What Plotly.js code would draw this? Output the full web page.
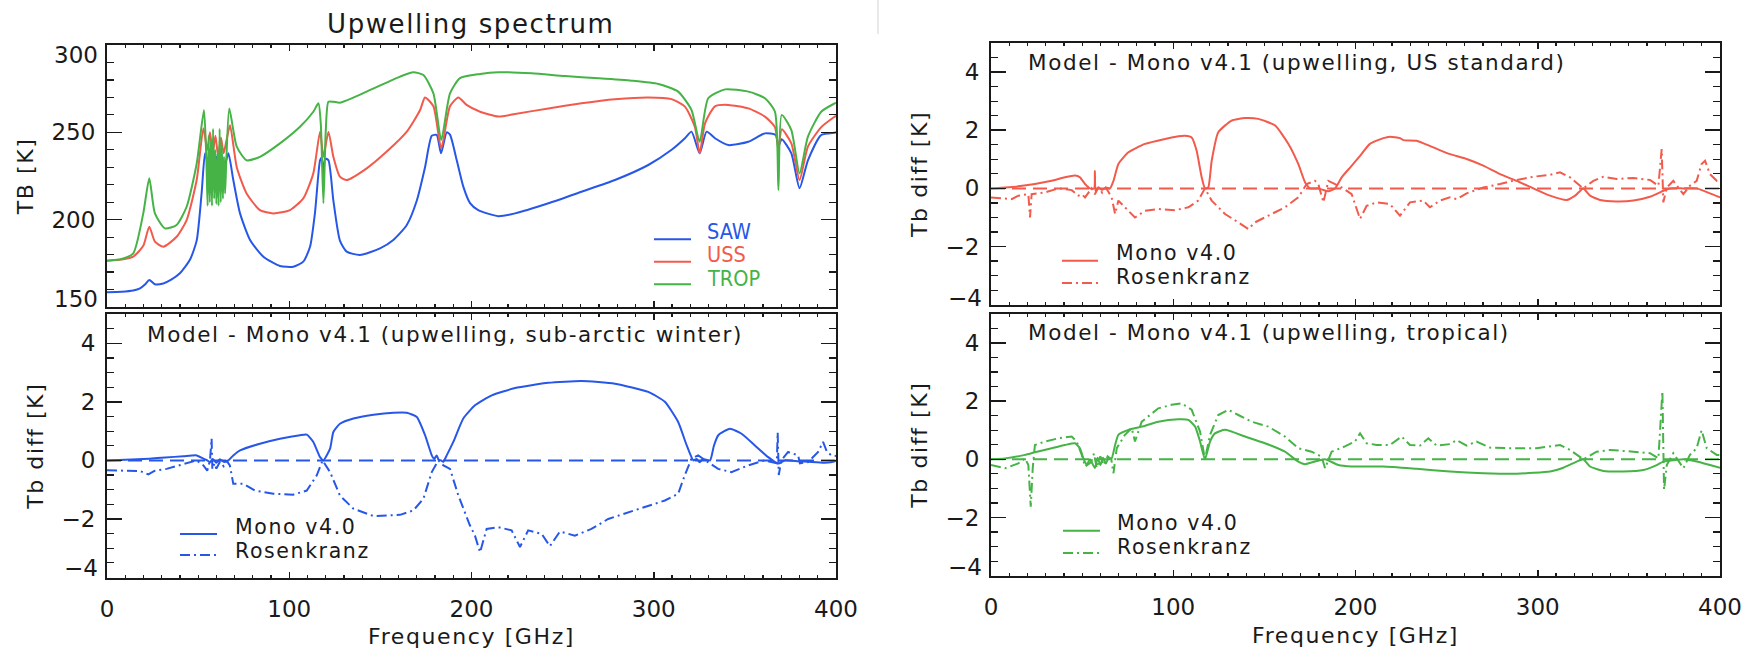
<!DOCTYPE html>
<html>
<head>
<meta charset="utf-8">
<script src="https://cdn.plot.ly/plotly-3.0.1.min.js"></script>
<style>
  html, body { margin: 0; padding: 0; background: #fff; }
  #chart { width: 1755px; height: 650px; }
  text[style*="Bitstream"] { letter-spacing: 1.6px; }
</style>
</head>
<body>
<div id="chart"></div>
<script>
// ---------------- DATA ----------------
// Upwelling spectrum, TB [K]
const sawFreq = [0,8,14.4,18.1,21,23.2,26.3,30.9,35,40,45.5,49.2,51.9,53.8,55.5,57,58.5,60,61.5,63,64.5,66.6,69.3,73,78.5,85.8,94.9,102.2,107.7,111.4,114.1,116.9,117.8,118.75,119.7,121.5,124.2,127.8,131.5,138.8,149.8,157.1,164.5,170,174.5,178.2,180.9,183.3,186.4,188.2,191.9,195.5,199.2,203.7,214.7,223.9,242.2,260.4,278.7,297,309.8,317.1,320.7,325.2,329,333.6,340.9,351.9,361,366.9,368.4,370.2,375.5,380,384.6,391.9,399.3,400];
const sawTB   = [158.5,158.8,159.5,160.7,163,165.5,163,163.5,165.5,169.3,177,188,215,238,232,237,230,236,229,235,231,238,222.7,203.6,188.4,178.8,173.5,173.1,176,184.5,203.8,234,235.5,226,235,234,211,188,181.7,179.8,183.6,188.4,197,211,230,248,248.5,238,250,248.7,234,218.9,209.5,205.5,202,203.6,209.4,216,222.7,231.3,240,246.6,250.4,238,250.4,246.6,242.7,244.6,249.4,248.5,242,246,238,218,234,248.5,249.8,250];

const ussFreq = [0,8,14.4,19.9,23.2,26.3,30.9,38.2,43.7,49.2,52.9,55,56.5,58,59.5,61,62.5,64,65.5,67.5,71.2,76.6,83.9,91.3,100.4,107.7,113.2,116.9,118.75,121.5,124.2,127.8,131.5,142.5,153.5,164.5,171.8,174.5,179.1,183.4,188.2,192.8,197.3,204.7,214.7,223.9,242.2,260.4,278.7,297,309.8,317.1,322.6,325.2,328.1,333.6,340.9,351.9,361,366.5,368.4,370.2,375.5,380,384.6,391.9,399.3,400];
const ussTB   = [176.5,177.2,178.8,185,196,187.4,184.5,190.2,199.8,222.7,252.3,240,250,238,248,236,247,238,245,254,230,215,205.5,203.6,205.5,212.2,226.5,250.4,236,250.4,236,224.6,222.7,229.4,239,250.4,262.8,270,264.9,240.8,264.9,270,265.7,261.8,259,260.5,263.7,266.6,268.9,270,269,264.7,253,238,255,264.9,265.7,263.7,259,253,240,251.7,243.7,222.7,241.8,253,259,259.5];

const tropFreq = [0,8,14.4,19.9,23.2,26.3,31.8,38.2,43.7,49.2,53.2,54.5,55.2,55.8,56.4,57,57.6,58.2,58.8,59.4,60,60.6,61.2,61.8,62.4,63,63.6,64.2,64.8,65.5,67.1,71.2,76.6,83.9,94.9,105.9,113.2,116,117.3,118.75,120,121.5,124.2,127.8,142.5,160.8,168.1,173.6,179.1,183.4,188.2,193.7,204.7,214.7,233,251.3,269.6,287.9,302.5,313.4,320.7,325.2,329.9,339.1,351.9,361,366.5,368.4,370.2,375.5,380,384.6,391.9,399.3,400];
const tropTB   = [176.5,177.5,180.7,203.6,223.7,203.6,195,197,207.4,232,262.8,235,208,248,210,245,208,252,212,240,209,238,208,252,210,243,212,236,215,235,263.7,241.8,234,236,243.7,253.2,261.8,266.6,255,209.4,250,267.5,267.5,267,273.3,281.9,284.4,282.8,272.3,245.6,272.3,281,283.4,284.4,283.8,282.2,281,279.6,277.7,273.3,262.8,244.6,269.5,274.6,273.3,269.5,261.8,217,260,251.3,226.5,247.5,261.8,266.6,267];

// Model - Mono v4.1 differences, Tb diff [K]
const sawMonoFreq = [0,10,23.2,32,41.9,49.2,52.9,55,56.5,58,60,62,64,66.6,69.3,73,83.9,94.9,105.9,109.6,113.2,116.9,118.75,122.4,124.2,127.8,135.2,146.2,157.1,164.5,170,174.5,178.2,179.5,180.9,182,183.3,184.5,186.4,190,195.5,201.9,211.1,223.9,242.2,260.4,278.7,297,306.1,313.4,318.1,321.7,323.5,325.2,327,330.9,333,335.4,341.8,348.2,355.5,362.8,368.3,372,379.3,385,393.9,399.3,400];
const sawMonoDiff = [0,0.02,0.06,0.1,0.14,0.17,0.06,0,-0.06,0.05,-0.08,0.04,-0.05,0,0.17,0.34,0.57,0.74,0.86,0.88,0.63,0.11,0,0.4,0.97,1.25,1.43,1.56,1.63,1.63,1.48,0.86,0.17,0.05,0.17,0.02,0,-0.05,0.17,0.63,1.43,1.88,2.22,2.47,2.65,2.71,2.62,2.34,2.0,1.31,0.51,0,0.05,-0.06,0.05,0,0.5,0.86,1.08,0.91,0.51,0.11,-0.11,0,-0.03,-0.05,-0.08,-0.03,0];

const sawRosFreq = [0,8,14.4,18,22.7,26,32.7,38,43.7,49.2,52.9,55,56.5,57.4,57.8,59,60,62,64,65.5,67.4,69.3,74.8,81.1,91.3,102.2,109.6,115.1,118.3,122.4,127.8,135.2,146.2,160.8,168.1,173.6,178.2,181.8,184.6,188.2,192.8,196,199,201.9,204.7,208.3,214.7,222,226.6,231.1,238.5,243,248.5,256.7,265.8,275,284.1,295.1,306.1,313.4,317,320.7,324.4,329.8,335.3,342.6,351.8,360.9,367.5,368,368.6,370,373.7,379.2,380.2,384.7,390.2,392.9,395,397.5,400];
const sawRosDiff = [-0.34,-0.35,-0.34,-0.36,-0.48,-0.36,-0.29,-0.2,-0.08,0,-0.17,-0.35,0,0.74,-0.3,-0.1,-0.28,-0.05,-0.2,0,-0.17,-0.8,-0.8,-1.03,-1.14,-1.17,-1.03,-0.51,0,-0.4,-1.2,-1.65,-1.9,-1.86,-1.71,-1.31,-0.4,0,-0.17,-0.29,-1.2,-1.7,-2.2,-2.57,-3.14,-2.34,-2.28,-2.39,-2.96,-2.39,-2.51,-2.93,-2.43,-2.57,-2.34,-2.0,-1.82,-1.6,-1.37,-1.14,-0.51,0.06,0.17,-0.06,-0.29,-0.4,-0.17,0,-0.1,0.95,-0.5,0,0.29,0.17,-0.1,-0.06,0.29,0.63,0.3,0.17,0.15];

const ussMonoFreq = [0,15,24.1,33.3,40.6,46.1,48.8,51.6,54.3,56.6,57,57.4,59,61,63,65.3,67.2,69.9,75.4,84.5,95.5,102.8,106.4,110.1,112.8,115.6,117.4,119.2,121.1,124.7,132,139.4,146.7,155.9,163.2,168.6,172.3,175,179.6,182,185.1,188.8,192.4,197.5,202.5,207.9,215.3,218.9,224.4,226.2,233.5,242.7,251.8,261,270.1,279.3,288.4,297.6,306.8,315.9,320.5,325,328.7,334.2,343.3,352.5,361.6,367.1,368.9,372.6,379.9,387.2,394.5,400];
const ussMonoDiff = [0,0.07,0.15,0.26,0.38,0.44,0.38,0.15,0,0,0.6,-0.1,0.02,-0.05,0.02,0,0.26,0.84,1.24,1.53,1.7,1.79,1.81,1.75,1.3,0.38,0,0.03,0.95,1.93,2.33,2.42,2.39,2.16,1.53,0.84,0.21,0,0,-0.05,-0.1,0,0.38,0.75,1.12,1.53,1.73,1.78,1.73,1.66,1.64,1.41,1.18,1.01,0.78,0.49,0.26,0,-0.25,-0.4,-0.25,0,-0.25,-0.4,-0.45,-0.42,-0.29,-0.14,-0.08,0,0,0,-0.17,-0.31];

const ussRosFreq = [0,11.3,15,20.5,21.4,22.3,29.6,37,44.3,47.9,49.8,51.6,55.2,57,59,61,63,66.2,68.1,69.9,73.5,79,84.5,91.8,101,108.3,113.7,117.4,121.1,128.4,135.7,141.2,144.8,154,161.3,168.6,173.2,177.8,179.6,182.4,185.1,188.8,193.3,197.9,202.5,206.1,211.6,218.9,224.4,229.9,237.2,240.8,246.3,251.8,255.5,261,270.1,279.3,288.4,297.6,306.8,312.2,317.7,325,330.5,336,343.3,352.5,361.6,366.2,368,368.9,370.8,374.4,379.9,383.5,387.2,389.9,391.8,394.5,398.2,400];
const ussRosDiff = [-0.31,-0.37,-0.25,-0.2,-1.0,-0.2,-0.14,0,-0.06,-0.25,-0.2,-0.31,0,-0.2,0.05,-0.15,0.03,-0.31,-0.88,-0.42,-0.65,-1.0,-0.77,-0.71,-0.75,-0.65,-0.42,0,-0.42,-0.88,-1.17,-1.4,-1.17,-0.88,-0.65,-0.31,0.15,0.26,0.15,-0.48,0.26,0.15,0,-0.2,-1.05,-0.6,-0.48,-0.54,-0.94,-0.48,-0.42,-0.65,-0.42,-0.31,-0.37,-0.17,0.03,0.15,0.29,0.4,0.47,0.55,0.38,0,0.26,0.4,0.32,0.36,0.29,0.09,1.35,-0.48,0.03,0.26,-0.2,0.09,0.26,0.84,0.95,0.49,0.26,0.24];

const tropMonoFreq = [0,7.7,18.7,24.1,33.3,40.6,46.1,48.8,50.7,52.5,54.3,57,58.5,60,61.5,63,64.5,66.2,68.1,69.9,75.4,82.7,91.8,102.8,108.3,112,114.7,117.4,120.2,122.9,128.4,139.4,150.3,161.3,168.6,172.3,177.8,183.3,190.6,197.9,215.3,233.5,251.8,270.1,288.4,306.8,314.1,321.4,325,328.7,336,347,358,365.3,368.9,376.3,379.9,387.2,394.5,400];
const tropMonoDiff = [0,0.03,0.15,0.24,0.38,0.49,0.55,0.38,0.03,-0.2,0,-0.3,0.05,-0.2,0.05,-0.15,0.05,0.03,0.49,0.84,1.01,1.12,1.29,1.37,1.35,1.12,0.61,0,0.61,0.89,1.01,0.78,0.55,0.26,-0.08,-0.17,-0.08,0,-0.2,-0.25,-0.25,-0.33,-0.42,-0.48,-0.5,-0.42,-0.29,-0.08,0,-0.25,-0.4,-0.42,-0.37,-0.2,-0.08,-0.02,0,-0.08,-0.2,-0.29];

const tropRosFreq = [0,7.7,15,18.7,20.5,21.8,22.9,24.1,29.6,37,44.3,47,49.8,51.6,55,56.5,58,60,62,64,66,67.2,69,73.5,77.2,79,82.7,91.8,99.1,104.6,110.1,114.7,117.4,120.2,124.7,130.2,135.7,143,152.2,161.3,168.6,175.9,181.4,183.3,186.9,194.2,199.7,202.5,206.1,211.6,218.9,225.3,229.9,235.4,240,244.5,251.8,255.5,261,266.4,273.7,284.7,299.3,312.2,317.7,325,332.3,339.7,352.5,361.6,366.2,368.4,369.3,370.8,374.4,379.9,383.5,387.2,389.9,392.7,398.2,400];
const tropRosDiff = [-0.2,-0.31,-0.14,0.03,-0.2,-1.63,-0.3,0.49,0.61,0.72,0.78,0.61,0.15,-0.25,-0.1,0.2,-0.3,0.1,-0.2,0.1,0,-0.48,0.38,0.84,1.07,0.61,1.29,1.75,1.87,1.92,1.7,0.95,0,0.84,1.52,1.7,1.52,1.29,1.12,0.78,0.38,0.26,0.09,-0.31,0.26,0.44,0.61,0.89,0.55,0.49,0.49,0.78,0.49,0.47,0.72,0.47,0.52,0.66,0.47,0.61,0.4,0.38,0.38,0.49,0.32,0,0.26,0.32,0.26,0.21,0.03,2.33,-1.05,-0.2,0.21,-0.31,0.15,0.38,1.0,0.38,0.15,0.15];

const zeroFreq = [0, 400];
const zeroDiff = [0, 0];

const spectrumNames = ['SAW', 'USS', 'TROP'];
const diffNames = ['Mono v4.0', 'Rosenkranz'];
const panelTitles = [
  'Model - Mono v4.1 (upwelling, sub-arctic winter)',
  'Model - Mono v4.1 (upwelling, US standard)',
  'Model - Mono v4.1 (upwelling, tropical)'
];

// ---------------- STYLE ----------------
const BLUE = '#2757e8', RED = '#f25a4c', GREEN = '#46b346';
const INK = '#1a1a1a';
const HFONT = 'DejaVu Sans, Bitstream Vera Sans, sans-serif'; // text with wide letter spacing
const TFONT = 'DejaVu Sans, sans-serif';                         // tick labels
const NFONT = 'Liberation Sans Narrow, DejaVu Sans Condensed, Arial Narrow, sans-serif';
const W = 1755, H = 650;
const px = v => v / W, py = v => 1 - v / H;
const DASHDOT = '10px,4px,2px,4px';
const DASH = '14px,7px';

function line(x, y, xa, ya, color, dash, smooth) {
  const ln = {color, width: 2, dash: dash || 'solid'};
  if (smooth) { ln.shape = 'spline'; ln.smoothing = smooth; }
  return {x, y, xaxis: xa, yaxis: ya, type: 'scatter', mode: 'lines', line: ln, hoverinfo: 'skip'};
}

const traces = [
  line(sawFreq, sawTB, 'x', 'y', BLUE, null, 0.6),
  line(ussFreq, ussTB, 'x', 'y', RED, null, 0.6),
  line(tropFreq, tropTB, 'x', 'y', GREEN, null, 0.6),

  line(zeroFreq, zeroDiff, 'x2', 'y2', BLUE, DASH),
  line(sawRosFreq, sawRosDiff, 'x2', 'y2', BLUE, DASHDOT),
  line(sawMonoFreq, sawMonoDiff, 'x2', 'y2', BLUE, null, 0.5),

  line(zeroFreq, zeroDiff, 'x3', 'y3', RED, DASH),
  line(ussRosFreq, ussRosDiff, 'x3', 'y3', RED, DASHDOT),
  line(ussMonoFreq, ussMonoDiff, 'x3', 'y3', RED, null, 0.5),

  line(zeroFreq, zeroDiff, 'x4', 'y4', GREEN, DASH),
  line(tropRosFreq, tropRosDiff, 'x4', 'y4', GREEN, DASHDOT),
  line(tropMonoFreq, tropMonoDiff, 'x4', 'y4', GREEN, null, 0.5)
];

function xAxis(left, right, anchor, labels) {
  return {
    domain: [px(left), px(right)], anchor, range: [0, 400], tick0: 0, dtick: 100,
    ticks: 'inside', ticklen: 6, tickwidth: 1.5, tickcolor: INK,
    minor: {dtick: 10, ticklen: 3, tickwidth: 1.2, tickcolor: INK, ticks: 'inside'},
    showline: true, linewidth: 2, linecolor: INK, mirror: 'allticks',
    showgrid: false, zeroline: false, automargin: false,
    showticklabels: labels, ticklabelstandoff: 10,
    tickfont: {family: TFONT, size: 23, color: INK},
    title: labels ? {text: 'Frequency [GHz]', font: {family: HFONT, size: 22, color: INK}, standoff: 8} : {text: ''}
  };
}
function yAxis(top, bottom, anchor, range, vals, texts, minorStep, title) {
  return {
    domain: [py(bottom), py(top)], anchor, range, tickmode: 'array', tickvals: vals, ticktext: texts,
    ticks: 'inside', ticklen: 15, tickwidth: 1.5, tickcolor: INK,
    minor: {tickmode: 'linear', tick0: range[0], dtick: minorStep, ticklen: 7, tickwidth: 1.2, tickcolor: INK, ticks: 'inside'},
    showline: true, linewidth: 2, linecolor: INK, mirror: 'allticks',
    showgrid: false, zeroline: false, automargin: false, ticklabelstandoff: 5,
    tickfont: {family: TFONT, size: 23, color: INK},
    title: {text: title, font: {family: HFONT, size: 22, color: INK}, standoff: 12}
  };
}

const dVals = [-4, -2, 0, 2, 4];
const dText = ['', '\u22122', '0', '2', '4'];

const annotations = [];
function note(text, x, y, opts) {
  annotations.push(Object.assign({text, x: px(x), y: py(y), xref: 'paper', yref: 'paper',
    showarrow: false, xanchor: 'left', yanchor: 'middle',
    font: {family: HFONT, size: 21.5, color: INK}}, opts || {}));
}
const LEG = {family: HFONT, size: 20.5, color: INK};
// titles
note('Upwelling spectrum', 471, 24, {xanchor: 'center', font: {family: HFONT, size: 26, color: INK}});
note(panelTitles[0], 145, 334);
note(panelTitles[1], 1026, 62);
note(panelTitles[2], 1026, 332);
// legends
note(spectrumNames[0], 705, 231, {font: {family: NFONT, size: 21.5, color: BLUE}});
note(spectrumNames[1], 705, 254.5, {font: {family: NFONT, size: 21.5, color: RED}});
note(spectrumNames[2], 705, 278, {font: {family: NFONT, size: 21.5, color: GREEN}});
note(diffNames[0], 233, 526.5, {font: LEG});
note(diffNames[1], 233, 550.5, {font: LEG});
note(diffNames[0], 1114, 253, {font: LEG});
note(diffNames[1], 1114, 277, {font: LEG});
note(diffNames[0], 1115, 523, {font: LEG});
note(diffNames[1], 1115, 547, {font: LEG});
// end tick labels (drawn slightly inside the frame, as in the reference)
function endLabel(text, yref, yval, shift, axisLeft) {
  annotations.push({text, xref: 'paper', x: px(axisLeft - 7), yref, y: yval, yshift: shift,
    showarrow: false, xanchor: 'right', yanchor: 'middle',
    font: {family: TFONT, size: 23, color: INK}});
}
endLabel('300', 'y', 300, -10, 107);
endLabel('150', 'y', 150, 8, 107);
endLabel('\u22124', 'y2', -4, 10, 107);
endLabel('\u22124', 'y3', -4, 7, 991);
endLabel('\u22124', 'y4', -4, 9, 991);

const shapes = [];
function key(x0, x1, y, color, dash) {
  shapes.push({type: 'line', xref: 'paper', yref: 'paper', x0: px(x0), x1: px(x1), y0: py(y), y1: py(y),
    line: {color, width: 2, dash: dash || 'solid'}});
}
key(654, 691, 239.3, BLUE);
key(654, 691, 261.7, RED);
key(654, 691, 284.3, GREEN);
key(180, 217, 534, BLUE);
key(180, 217, 555, BLUE, DASHDOT);
key(1062, 1098, 260.7, RED);
key(1062, 1098, 283, RED, DASHDOT);
key(1063, 1100, 530.7, GREEN);
key(1063, 1100, 553, GREEN, DASHDOT);
shapes.push({type: 'line', xref: 'paper', yref: 'paper', x0: px(878), x1: px(878), y0: py(0), y1: py(34),
  line: {color: '#e2e2e2', width: 1.5}});

const layout = {
  width: W, height: H, margin: {l: 0, r: 0, t: 0, b: 0},
  paper_bgcolor: '#ffffff', plot_bgcolor: '#ffffff', showlegend: false,
  font: {family: TFONT, color: INK},
  xaxis: xAxis(107, 836, 'y', false),
  yaxis: yAxis(45, 307, 'x', [150, 300], [150, 200, 250, 300], ['', '200', '250', ''], 10, 'TB [K]'),
  xaxis2: xAxis(107, 836, 'y2', true),
  yaxis2: yAxis(314, 577.5, 'x2', [-4, 5], dVals, dText, 0.5, 'Tb diff [K]'),
  xaxis3: xAxis(991, 1720, 'y3', false),
  yaxis3: yAxis(43, 304.7, 'x3', [-4, 5], dVals, dText, 0.5, 'Tb diff [K]'),
  xaxis4: xAxis(991, 1720, 'y4', true),
  yaxis4: yAxis(313.7, 575.7, 'x4', [-4, 5], dVals, dText, 0.5, 'Tb diff [K]'),
  annotations, shapes
};

Plotly.newPlot('chart', traces, layout, {staticPlot: true, displayModeBar: false});
</script>
</body>
</html>
